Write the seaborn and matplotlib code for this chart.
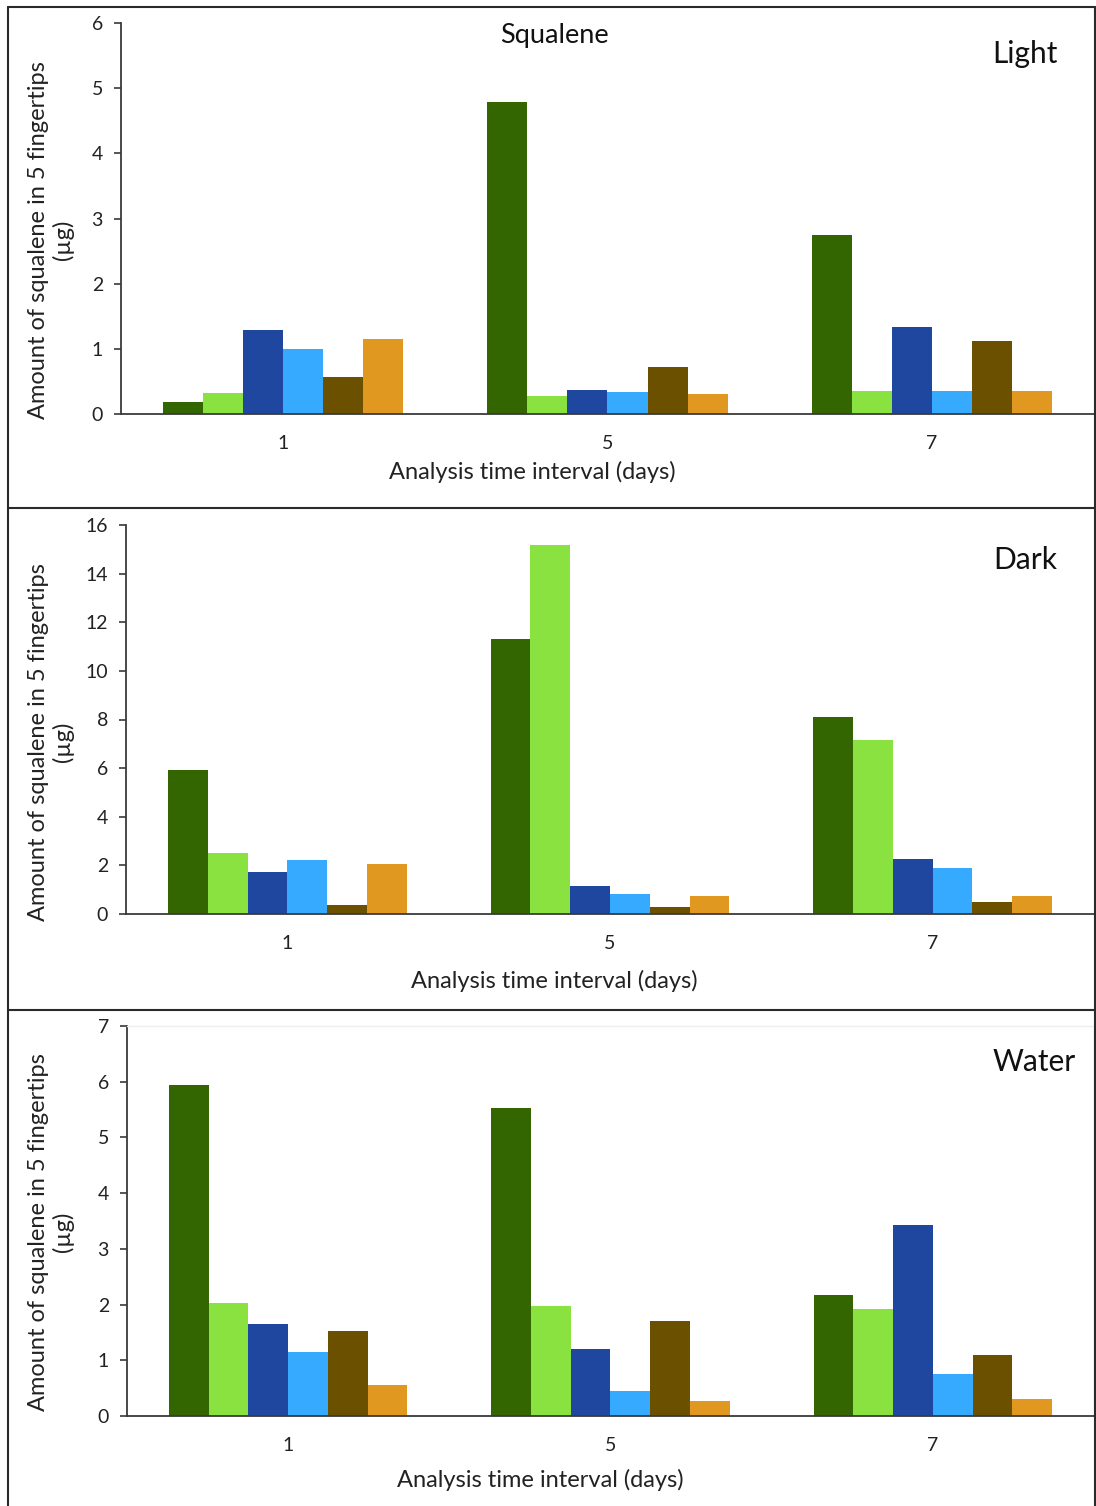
import pandas as pd
import matplotlib.pyplot as plt
from matplotlib.lines import Line2D
import seaborn as sns

sns.set_style("white")
plt.rcParams['font.family'] = ['Lato', 'DejaVu Sans']

days = ["1", "5", "7"]
series = ["S1", "S2", "S3", "S4", "S5", "S6"]
colors = ["#336600", "#8AE240", "#1F47A0", "#35AAFF", "#6B5000", "#E09820"]

# values per day, one entry per series (µg)
light_d1 = [0.18, 0.32, 1.29, 1.00, 0.57, 1.15]
light_d5 = [4.79, 0.27, 0.37, 0.34, 0.72, 0.30]
light_d7 = [2.75, 0.35, 1.33, 0.36, 1.12, 0.35]

dark_d1 = [5.94, 2.51, 1.73, 2.23, 0.37, 2.07]
dark_d5 = [11.3, 15.16, 1.17, 0.82, 0.30, 0.73]
dark_d7 = [8.12, 7.16, 2.28, 1.91, 0.49, 0.75]

water_d1 = [5.95, 2.02, 1.66, 1.15, 1.53, 0.56]
water_d5 = [5.52, 1.97, 1.20, 0.45, 1.71, 0.27]
water_d7 = [2.18, 1.92, 3.42, 0.76, 1.10, 0.31]

panel_names = ["Light", "Dark", "Water"]
ymax = [6, 16, 7]
ystep = [1, 2, 1]


def long_table(d1, d5, d7):
    rows = []
    for day, vals in zip(days, [d1, d5, d7]):
        for s, v in zip(series, vals):
            rows.append({"day": day, "series": s, "value": v})
    return pd.DataFrame(rows)


tables = [long_table(light_d1, light_d5, light_d7),
          long_table(dark_d1, dark_d5, dark_d7),
          long_table(water_d1, water_d5, water_d7)]

W, H = 1096, 1506
fig = plt.figure(figsize=(W / 100, H / 100), dpi=100)

# axes boxes in pixels: left, top, bottom
boxes = [(121, 23, 414), (126, 525, 914), (127, 1026, 1416)]
ylab_y = [240, 742, 1232]
xlab_pos = [(532, 472), (554, 981), (540, 1480)]
name_pos = [(1025, 54), (1025, 560), (1034, 1062)]

for i, df in enumerate(tables):
    left, top, bottom = boxes[i]
    ax = fig.add_axes([left / W, 1 - bottom / H, (1094 - left) / W, (bottom - top) / H])
    sns.barplot(data=df, x="day", y="value", hue="series", palette=colors,
                width=0.74, gap=0, saturation=1, errorbar=None, legend=False,
                linewidth=0, ax=ax)
    ax.set_ylim(0, ymax[i])
    ax.set_yticks(range(0, ymax[i] + 1, ystep[i]))
    ax.set_xlim(-0.5, 2.5)
    ax.set_xlabel("")
    ax.set_ylabel("")
    for side in ["left", "bottom"]:
        ax.spines[side].set_color("#3a3a3a")
        ax.spines[side].set_linewidth(1.3)
    if i == 2:
        for side in ["top", "right"]:
            ax.spines[side].set_color("#efefef")
            ax.spines[side].set_linewidth(1.0)
    else:
        ax.spines["top"].set_visible(False)
        ax.spines["right"].set_visible(False)
    ax.tick_params(axis="y", length=5, width=1.2, color="#3a3a3a", pad=8,
                   labelsize=14, labelcolor="#222222", left=True)
    ax.tick_params(axis="x", length=0, pad=15, labelsize=14, labelcolor="#222222")

    fig.text(51 / W, 1 - ylab_y[i] / H, "Amount of squalene in 5 fingertips\n(µg)",
             rotation=90, ha="center", va="center", fontsize=17,
             linespacing=1.2, color="#222222")
    fig.text(xlab_pos[i][0] / W, 1 - xlab_pos[i][1] / H, "Analysis time interval (days)",
             ha="center", va="center", fontsize=17, color="#222222")
    fig.text(name_pos[i][0] / W, 1 - name_pos[i][1] / H, panel_names[i],
             ha="center", va="center", fontsize=21.5, color="#111111")

fig.text(554 / W, 1 - 35 / H, "Squalene", ha="center", va="center",
         fontsize=19.5, color="#111111")

# panel frame lines
frame = dict(color="#2a2a2a", linewidth=1.5, transform=fig.transFigure)
fig.add_artist(Line2D([8 / W, 1095 / W], [1 - 7 / H, 1 - 7 / H], **frame))
fig.add_artist(Line2D([8 / W, 8 / W], [0, 1 - 7 / H], **frame))
fig.add_artist(Line2D([1095 / W, 1095 / W], [0, 1 - 7 / H], **frame))
fig.add_artist(Line2D([8 / W, 1095 / W], [1 - 508 / H, 1 - 508 / H], **frame))
fig.add_artist(Line2D([8 / W, 1095 / W], [1 - 1010 / H, 1 - 1010 / H], **frame))

fig.savefig("out.png", dpi=100, facecolor="white")
